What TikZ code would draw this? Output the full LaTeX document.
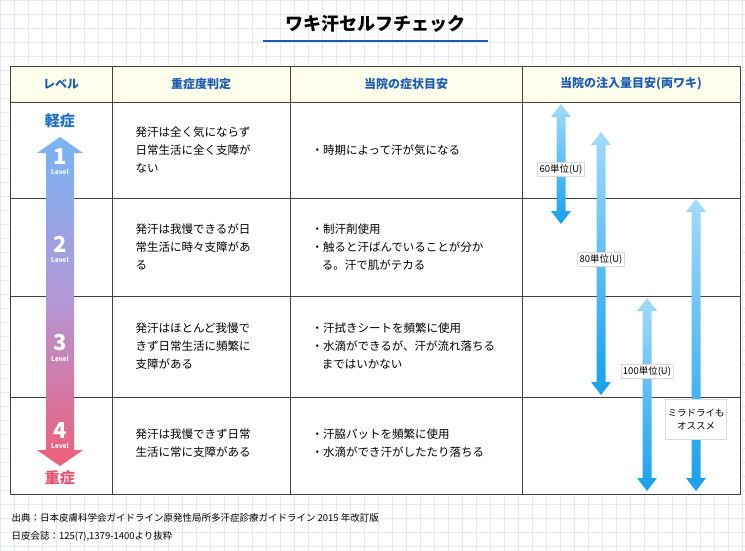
\documentclass[tikz,border=0pt]{standalone}
\usepackage{fontspec}
\setmainfont{Noto Sans CJK JP}
\usetikzlibrary{positioning}
\definecolor{gridc}{HTML}{E3EAF5}
\definecolor{headc}{HTML}{FFFDEB}
\definecolor{headtext}{HTML}{1B5DB5}
\definecolor{lightc}{HTML}{1E6FC8}
\definecolor{heavyc}{HTML}{E8506A}
\definecolor{levtop}{HTML}{78B4F5}
\definecolor{levmid}{HTML}{B497D6}
\definecolor{levbot}{HTML}{EE5E7A}
\definecolor{dropt}{HTML}{A2DBF8}
\definecolor{dropb}{HTML}{16A0EE}
\tikzstyle{head}=[font=\fontsize{12}{14}\selectfont\bfseries, text=headtext]
\tikzstyle{cell}=[anchor=west, align=left, font=\fontsize{11.5}{18}\selectfont]
\tikzstyle{amount}=[fill=white, draw=black!15, inner sep=2pt, align=center,
                    font=\fontsize{9.5}{13}\selectfont]
\tikzstyle{lvnum}=[text=white, font=\fontsize{22}{22}\selectfont\bfseries]
\tikzstyle{lvword}=[text=white, font=\fontsize{6.5}{6.5}\selectfont\bfseries]
\newcommand\dosearrow[3]{% x, top, bottom
  \shade[top color=dropt, bottom color=dropb]
    ({#1-4.5},{#2+13}) -- ({#1-10},{#2+13}) -- (#1,#2) -- ({#1+10},{#2+13})
    -- ({#1+4.5},{#2+13}) -- ({#1+4.5},{#3-13}) -- ({#1+10},{#3-13})
    -- (#1,#3) -- ({#1-10},{#3-13}) -- ({#1-4.5},{#3-13}) -- cycle;}
\begin{document}
\begin{tikzpicture}[x=1pt, y=-1pt]
\useasboundingbox (0,0) rectangle (745,551);
\fill[white] (0,0) rectangle (745,551);

%%%%%%%%%%%%%%%%%%
\foreach \gx in {0,14,...,745} {\draw[gridc, line width=0.5] (\gx,0) -- (\gx,551);}
\foreach \gy in {0,14,...,551} {\draw[gridc, line width=0.5] (0,\gy) -- (745,\gy);}

%%%%%%%%%%%%%%%%%%
\node (Title) at (375,24) [font=\fontsize{18}{20}\selectfont\bfseries] {ワキ汗セルフチェック};
\draw[headtext, line width=1.5] (263,41) -- (488,41);

%%%%%%%%%%%%%%%%%%
\fill[white] (10,66) rectangle (740,494);
\fill[headc] (10,66) rectangle (740,102);
\draw[black!75, line width=0.8] (10,66) rectangle (740,494);
\foreach \ry in {102,198,296,397} {\draw[black!75, line width=0.8] (10,\ry) -- (740,\ry);}
\foreach \cx in {112,290,522} {\draw[black!75, line width=0.8] (\cx,66) -- (\cx,494);}

\node (Level_Head) at (61,84) [head] {レベル};
\node (Judge_Head) at (201,84) [head] {重症度判定};
\node (Symptom_Head) at (406,84) [head] {当院の症状目安};
\node (Dose_Head) at (631,84) [head] {当院の注入量目安(両ワキ)};

%%%%%%%%%%%%%%%%%%
\node (Light) at (60,121) [text=lightc, font=\fontsize{15}{15}\selectfont\bfseries] {軽症};
\node (Heavy) at (60,478) [text=heavyc, font=\fontsize{15}{15}\selectfont\bfseries] {重症};
\shade[top color=levtop, bottom color=levbot, middle color=levmid]
  (46,153) -- (37,153) -- (60,137) -- (83,153) -- (74,153) -- (74,450)
  -- (83,450) -- (60,466) -- (37,450) -- (46,450) -- cycle;
\node (One) at (60,157) [lvnum] {1};
\node (One_Level) at (60,172) [lvword] {Level};
\node (Two) at (60,244) [lvnum] {2};
\node (Two_Level) at (60,260) [lvword] {Level};
\node (Three) at (60,343) [lvnum] {3};
\node (Three_Level) at (60,359) [lvword] {Level};
\node (Four) at (60,431) [lvnum] {4};
\node (Four_Level) at (60,446) [lvword] {Level};

%%%%%%%%%%%%%%%%%%
\node (Judge_One) at (132,150) [cell] {発汗は全く気にならず\\日常生活に全く支障が\\ない};
\node (Judge_Two) at (132,247) [cell] {発汗は我慢できるが日\\常生活に時々支障があ\\る};
\node (Judge_Three) at (132,346) [cell] {発汗はほとんど我慢で\\きず日常生活に頻繁に\\支障がある};
\node (Judge_Four) at (132,443) [cell] {発汗は我慢できず日常\\生活に常に支障がある};

%%%%%%%%%%%%%%%%%%
\node (Symptom_One) at (308,150) [cell] {・時期によって汗が気になる};
\node (Symptom_Two) at (308,247) [cell] {・制汗剤使用\\・触ると汗ばんでいることが分か\\\hspace{0.9em}る。汗で肌がテカる};
\node (Symptom_Three) at (308,346) [cell] {・汗拭きシートを頻繁に使用\\・水滴ができるが、汗が流れ落ちる\\\hspace{0.9em}まではいかない};
\node (Symptom_Four) at (308,443) [cell] {・汗脇パットを頻繁に使用\\・水滴ができ汗がしたたり落ちる};

%%%%%%%%%%%%%%%%%%%%
\dosearrow{561}{104}{224}
\dosearrow{601}{132}{395}
\dosearrow{647}{298}{491}
\dosearrow{696}{199}{491}

\node (Dose_60) at (561,169) [amount] {60単位(U)};
\node (Dose_80) at (601,259) [amount] {80単位(U)};
\node (Dose_100) at (647,371) [amount] {100単位(U)};
\node (Miradry) at (696,419) [amount, minimum width=54, minimum height=40] {ミラドライも\\オススメ};

%%%%%%%%%%%%%%%%%%%%
\node (Source) at (8,518) [anchor=west, font=\fontsize{9.5}{12}\selectfont] {出典：日本皮膚科学会ガイドライン原発性局所多汗症診療ガイドライン 2015 年改訂版};
\node (Journal) at (8,536) [anchor=west, font=\fontsize{9.5}{12}\selectfont] {日皮会誌：125(7),1379-1400より抜粋};
\end{tikzpicture}
\end{document}
